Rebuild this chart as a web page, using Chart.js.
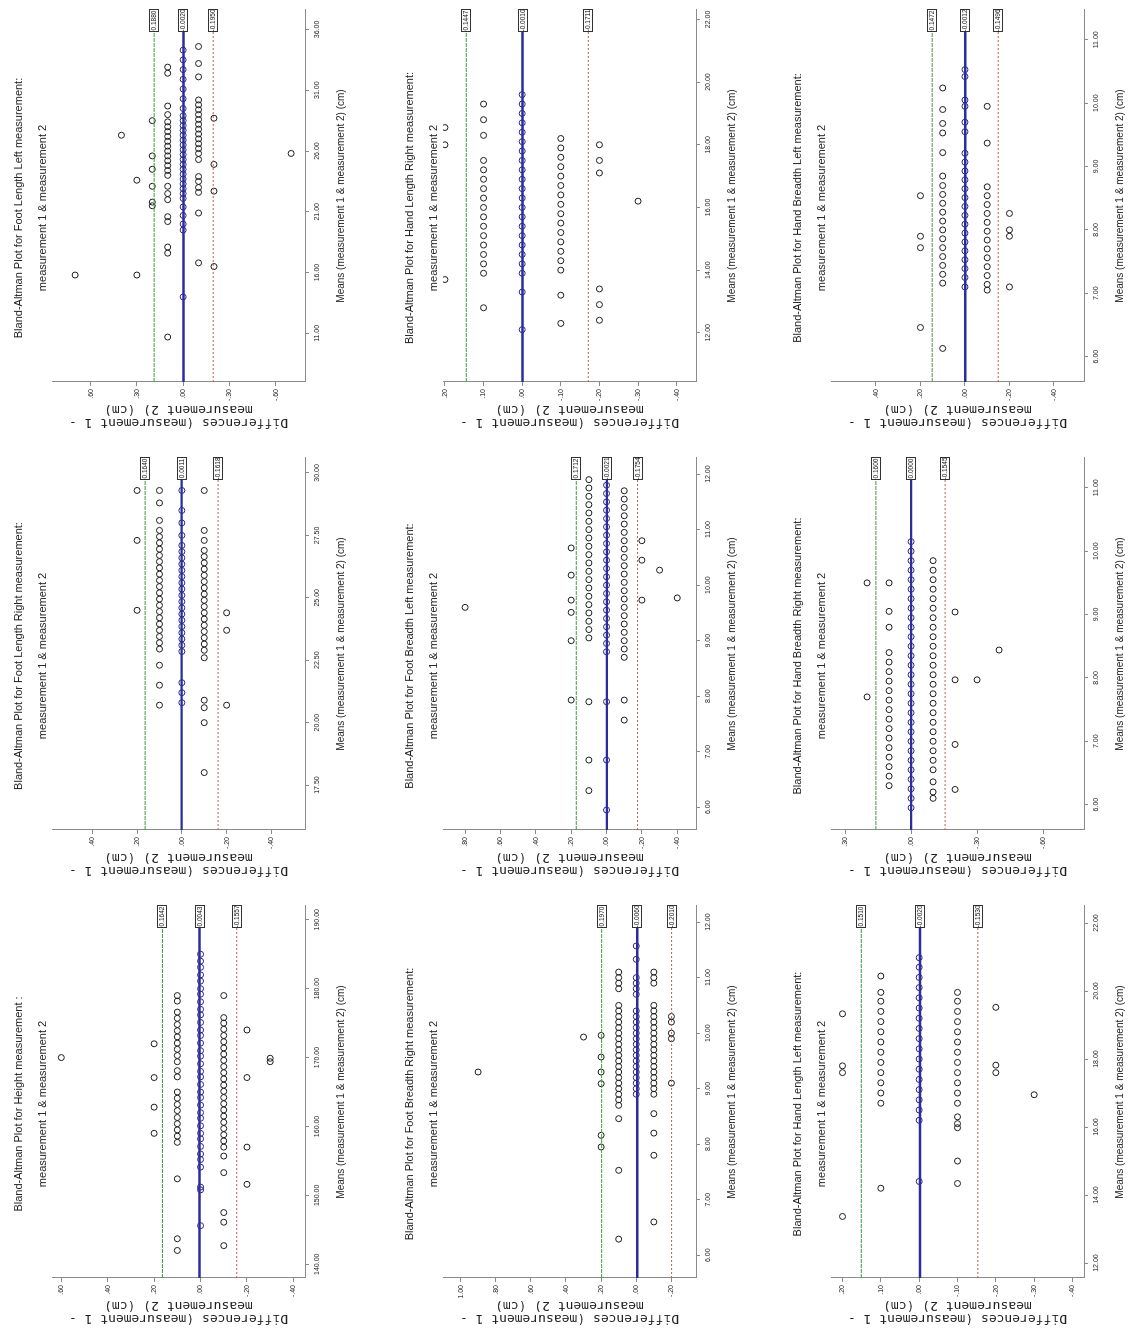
<!DOCTYPE html>
<html>
<head>
<meta charset="utf-8">
<script src="https://cdn.jsdelivr.net/npm/chart.js@4.4.1/dist/chart.umd.min.js"></script>
<style>
html, body { margin: 0; padding: 0; background: #fff; width: 1143px; height: 1332px; overflow: hidden; }
/* the sheet is laid out upright, then turned a quarter to the left like the scan */
#sheet { position: absolute; left: 0; top: 0; width: 1332px; height: 1143px; transform-origin: 0 0; transform: translateY(1332px) rotate(-90deg); background: #fff; }
#sheet canvas { position: absolute; }
</style>
</head>
<body>
<div id="sheet"></div>
<script>
//* Input data //*

var panelTitles = [
  'Bland-Altman Plot for Height measurement :',
  'Bland-Altman Plot for Foot Length Right measurement:',
  'Bland-Altman Plot for Foot Length Left measurement:',
  'Bland-Altman Plot for Foot Breadth Right measurement:',
  'Bland-Altman Plot for Foot Breadth Left measurement:',
  'Bland-Altman Plot for Hand Length Right measurement:',
  'Bland-Altman Plot for Hand Length Left measurement:',
  'Bland-Altman Plot for Hand Breadth Right measurement:',
  'Bland-Altman Plot for Hand Breadth Left measurement:'
];
var subTitle = 'measurement 1 & measurement 2';
var xAxisTitle = 'Means (measurement 1 & measurement 2) (cm)';
var yAxisTitle = ['Differences (measurement 1 -', 'measurement 2) (cm)'];

// Means axis: range and ticks for each panel.
var xRanges = [[138, 192], [15.7, 30.6], [7, 37.6], [5.59, 12.29], [5.59, 12.29], [10.43, 22.3], [11.56, 22.5], [5.6, 11.47], [5.6, 11.47]];
var xTickValues = [
  [140, 150, 160, 170, 180, 190],
  [17.5, 20, 22.5, 25, 27.5, 30],
  [11, 16, 21, 26, 31, 36],
  [6, 7, 8, 9, 10, 11, 12],
  [6, 7, 8, 9, 10, 11, 12],
  [12, 14, 16, 18, 20, 22],
  [12, 14, 16, 18, 20, 22],
  [6, 7, 8, 9, 10, 11],
  [6, 7, 8, 9, 10, 11]
];

// Differences axis: range and ticks for each panel.
var yRanges = [[-0.45, 0.64], [-0.55, 0.58], [-0.79, 0.85], [-0.34, 1.10], [-0.506, 0.925], [-0.45, 0.205], [-0.43, 0.23], [-0.786, 0.364], [-0.535, 0.602]];
var yTickValues = [
  [-0.4, -0.2, 0, 0.2, 0.4, 0.6],
  [-0.4, -0.2, 0, 0.2, 0.4],
  [-0.6, -0.3, 0, 0.3, 0.6],
  [-0.2, 0, 0.2, 0.4, 0.6, 0.8, 1.0],
  [-0.4, -0.2, 0, 0.2, 0.4, 0.6, 0.8],
  [-0.4, -0.3, -0.2, -0.1, 0, 0.1, 0.2],
  [-0.4, -0.3, -0.2, -0.1, 0, 0.1, 0.2],
  [-0.6, -0.3, 0, 0.3],
  [-0.4, -0.2, 0, 0.2, 0.4]
];

// Upper limit, mean difference, lower limit.
var limitLines = [
  [0.1642, 0.0043, -0.1557],
  [0.1640, 0.0011, -0.1618],
  [0.1880, -0.0020, -0.1950],
  [0.1970, -0.0060, -0.2010],
  [0.1712, -0.0021, -0.1754],
  [0.1447, -0.0010, -0.1711],
  [0.1510, -0.0020, -0.1530],
  [0.1600, 0.0000, -0.1545],
  [0.1472, -0.0012, -0.1496]
];

// Points: one list of means for every difference level.
var heightDiffs = [0.6, 0.2, 0.1, 0, -0.1, -0.2, -0.3];
var heightMeans = [
  [170.0],
  [172.0, 167.1, 162.8, 159.0],
  [179.0, 178.2, 176.6, 175.7, 174.8, 173.9, 173.0, 172.1, 171.2, 170.3, 169.4, 168.1, 167.2, 165.0, 164.1, 163.2, 162.3, 161.3, 160.4, 159.5, 158.6, 157.7, 152.4, 143.7, 142.0],
  [185.0, 184.0, 183.1, 182.0, 181.1, 180.0, 179.2, 178.1, 177.0, 176.2, 175.1, 174.0, 173.2, 172.1, 171.0, 170.2, 169.1, 168.0, 167.2, 166.1, 165.0, 164.2, 163.1, 162.0, 161.2, 160.1, 159.0, 158.2, 157.1, 156.0, 155.2, 154.1, 151.2, 150.8, 145.6],
  [179.0, 175.8, 175.0, 174.1, 173.2, 172.3, 171.4, 170.5, 169.6, 168.7, 167.8, 166.9, 166.0, 165.1, 164.2, 163.3, 162.4, 161.5, 160.6, 159.7, 158.8, 157.9, 157.0, 155.7, 153.3, 147.5, 146.1, 142.7],
  [174.0, 167.1, 157.0, 151.6],
  [169.4, 169.9]
];

var footLenRDiffs = [0.2, 0.1, 0, -0.1, -0.2];
var footLenRMeans = [
  [29.3, 27.3, 24.5],
  [29.3, 28.8, 28.1, 27.7, 27.45, 27.2, 26.95, 26.7, 26.45, 26.2, 25.95, 25.7, 25.45, 25.2, 24.95, 24.7, 24.45, 24.2, 23.95, 23.7, 23.45, 23.2, 22.95, 22.3, 21.5, 20.7],
  [29.3, 28.5, 28.0, 27.5, 27.1, 26.85, 26.6, 26.35, 26.1, 25.85, 25.6, 25.35, 25.1, 24.85, 24.6, 24.35, 24.1, 23.85, 23.6, 23.35, 23.1, 22.85, 21.6, 21.2, 20.8],
  [29.3, 27.7, 27.3, 26.9, 26.65, 26.4, 26.15, 25.9, 25.65, 25.4, 25.15, 24.9, 24.65, 24.4, 24.15, 23.9, 23.65, 23.4, 23.15, 22.9, 22.6, 20.9, 20.6, 20.0, 18.0],
  [24.4, 23.7, 20.7]
];

var footLenLDiffs = [0.7, 0.4, 0.3, 0.2, 0.1, 0, -0.1, -0.2, -0.7];
var footLenLMeans = [
  [15.8],
  [27.3],
  [23.6, 15.8],
  [28.5, 25.6, 24.5, 23.1, 21.8, 21.5],
  [32.9, 32.4, 29.7, 29.0, 28.4, 28.0, 27.6, 27.2, 26.8, 26.4, 26.0, 25.6, 25.2, 24.8, 24.4, 24.0, 23.1, 22.5, 22.0, 20.6, 20.2, 18.1, 17.6, 10.7],
  [34.3, 33.5, 32.7, 31.9, 31.1, 30.3, 29.5, 28.9, 28.5, 28.1, 27.7, 27.3, 26.9, 26.5, 26.1, 25.7, 25.3, 24.9, 24.5, 24.1, 23.7, 23.3, 22.9, 22.5, 22.1, 21.4, 20.7, 20.0, 19.5, 14.0],
  [34.6, 33.2, 32.1, 30.2, 29.8, 29.4, 29.0, 28.6, 28.2, 27.8, 27.4, 27.0, 26.6, 26.2, 25.8, 25.3, 23.9, 23.5, 23.0, 22.6, 20.9, 16.8],
  [28.7, 24.9, 22.7, 16.5],
  [25.8]
];

var footBrRDiffs = [0.9, 0.3, 0.2, 0.1, 0, -0.1, -0.2];
var footBrRMeans = [
  [9.30],
  [9.93],
  [9.96, 9.57, 9.30, 9.09, 8.16, 7.95],
  [11.1, 11.0, 10.9, 10.8, 10.5, 10.4, 10.3, 10.2, 10.1, 10.0, 9.9, 9.8, 9.7, 9.6, 9.5, 9.4, 9.3, 9.2, 9.1, 9.0, 8.9, 8.8, 8.7, 8.46, 7.53, 6.29],
  [11.57, 11.33, 11.0, 10.9, 10.8, 10.7, 10.4, 10.3, 10.2, 10.1, 10.0, 9.9, 9.8, 9.7, 9.6, 9.5, 9.4, 9.3, 9.2, 9.1, 9.0, 8.9],
  [11.1, 11.0, 10.9, 10.5, 10.4, 10.3, 10.2, 10.1, 10.0, 9.9, 9.8, 9.7, 9.6, 9.5, 9.4, 9.3, 9.2, 9.1, 9.0, 8.9, 8.55, 8.2, 7.8, 6.6],
  [10.3, 10.2, 10.0, 9.9, 9.1]
];

var footBrLDiffs = [0.8, 0.2, 0.1, 0, -0.1, -0.2, -0.3, -0.4];
var footBrLMeans = [
  [9.6],
  [10.67, 10.18, 9.73, 9.51, 9.0, 7.93],
  [11.9, 11.75, 11.6, 11.45, 11.3, 11.15, 11.0, 10.85, 10.7, 10.55, 10.4, 10.25, 10.1, 9.95, 9.8, 9.65, 9.5, 9.35, 9.2, 9.05, 7.9, 6.85, 6.3],
  [11.8, 11.65, 11.5, 11.35, 11.2, 11.05, 10.9, 10.75, 10.6, 10.45, 10.3, 10.15, 10.0, 9.85, 9.7, 9.55, 9.4, 9.25, 9.1, 8.95, 8.8, 7.9, 6.85, 5.95],
  [11.7, 11.55, 11.4, 11.25, 11.1, 10.95, 10.8, 10.65, 10.5, 10.35, 10.2, 10.05, 9.9, 9.75, 9.6, 9.45, 9.3, 9.15, 9.0, 8.85, 8.7, 7.93, 7.57],
  [10.8, 10.45, 9.73],
  [10.27],
  [9.77]
];

var handLenRDiffs = [0.2, 0.1, 0, -0.1, -0.2, -0.3];
var handLenRMeans = [
  [18.55, 18.0, 13.7],
  [19.3, 18.8, 18.3, 17.5, 17.2, 16.9, 16.6, 16.3, 16.0, 15.7, 15.4, 15.1, 14.8, 14.5, 14.2, 13.9, 12.8],
  [19.6, 19.3, 19.0, 18.7, 18.4, 18.1, 17.8, 17.5, 17.2, 16.9, 16.6, 16.3, 16.0, 15.7, 15.4, 15.1, 14.8, 14.5, 14.2, 13.9, 13.3, 12.1],
  [18.2, 17.9, 17.6, 17.3, 17.0, 16.7, 16.4, 16.1, 15.8, 15.5, 15.2, 14.9, 14.6, 14.3, 14.0, 13.2, 12.3],
  [18.0, 17.5, 17.1, 13.4, 12.9, 12.4],
  [16.2]
];

var handLenLDiffs = [0.2, 0.1, 0, -0.1, -0.2, -0.3];
var handLenLMeans = [
  [19.33, 17.8, 17.6, 13.37],
  [20.44, 19.96, 19.7, 19.4, 19.1, 18.8, 18.5, 18.2, 17.9, 17.6, 17.3, 17.0, 16.7, 14.2],
  [20.98, 20.7, 20.4, 20.1, 19.8, 19.5, 19.2, 18.9, 18.6, 18.3, 18.0, 17.7, 17.4, 17.1, 16.8, 16.5, 16.2, 14.4],
  [19.96, 19.7, 19.4, 19.1, 18.8, 18.5, 18.2, 17.9, 17.6, 17.3, 17.0, 16.7, 16.3, 16.1, 15.98, 15.0, 14.34],
  [19.52, 17.82, 17.6],
  [16.95]
];

var handBrRDiffs = [0.2, 0.1, 0, -0.1, -0.2, -0.3, -0.4];
var handBrRMeans = [
  [9.5, 7.7],
  [9.5, 9.05, 8.8, 8.4, 8.25, 8.1, 7.95, 7.8, 7.65, 7.5, 7.35, 7.2, 7.05, 6.9, 6.75, 6.6, 6.45, 6.3],
  [10.15, 10.0, 9.85, 9.7, 9.55, 9.4, 9.25, 9.1, 8.95, 8.8, 8.65, 8.5, 8.35, 8.2, 8.05, 7.9, 7.75, 7.6, 7.45, 7.3, 7.15, 7.0, 6.85, 6.7, 6.55, 6.4, 6.25, 6.1, 5.95],
  [9.85, 9.7, 9.55, 9.4, 9.25, 9.1, 8.95, 8.8, 8.65, 8.5, 8.35, 8.2, 8.05, 7.9, 7.75, 7.6, 7.45, 7.3, 7.15, 7.0, 6.85, 6.7, 6.55, 6.36, 6.2, 6.1],
  [9.04, 7.97, 6.95, 6.24],
  [7.97],
  [8.44]
];

var handBrLDiffs = [0.2, 0.1, 0, -0.1, -0.2];
var handBrLMeans = [
  [8.54, 7.9, 7.72, 6.46],
  [10.24, 9.9, 9.68, 9.53, 9.22, 8.85, 8.7, 8.56, 8.42, 8.28, 8.14, 8.0, 7.86, 7.72, 7.58, 7.44, 7.3, 7.16, 6.13],
  [10.53, 10.42, 10.05, 9.95, 9.7, 9.55, 9.21, 9.07, 8.93, 8.79, 8.65, 8.51, 8.37, 8.23, 8.09, 7.95, 7.81, 7.67, 7.53, 7.39, 7.25, 7.1],
  [9.95, 9.37, 8.68, 8.54, 8.4, 8.26, 8.12, 7.98, 7.84, 7.7, 7.56, 7.42, 7.28, 7.14, 7.05],
  [8.26, 8.0, 7.9, 7.1]
];

var panelDiffs = [heightDiffs, footLenRDiffs, footLenLDiffs, footBrRDiffs, footBrLDiffs, handLenRDiffs, handLenLDiffs, handBrRDiffs, handBrLDiffs];
var panelMeans = [heightMeans, footLenRMeans, footLenLMeans, footBrRMeans, footBrLMeans, handLenRMeans, handLenLMeans, handBrRMeans, handBrLMeans];

//* Layout and style //*

var colLeft = [0, 448, 896];
var rowTop = [0, 391, 779];
var panelW = 436, panelH = 362;

var sansFamily = "'Liberation Sans', Arial, sans-serif";
var lineColours = ['#3f9a45', '#2c2c9c', '#d2555a'];
var lineWidths = [1, 2.4, 1];
var lineDashes = [[4, 1], [], [2, 2]];

function fmtDiff(v) {
  // SPSS style: .20, -.40, 1.00
  var s = Math.abs(v).toFixed(2).replace(/^0/, '');
  return (v < -1e-9 ? '-' : '') + s;
}

// Title lines and the boxed values at the end of the reference lines.
var panelDecor = {
  id: 'panelDecor',
  afterDatasetsDraw: function(chart, args, opts) {
    var ctx = chart.ctx;
    var xs = chart.scales.x, ys = chart.scales.y;
    ctx.save();
    ctx.font = '6.5px ' + sansFamily;
    ctx.textAlign = 'center';
    ctx.textBaseline = 'middle';
    opts.limits.forEach(function(v) {
      var py = Math.round(ys.getPixelForValue(v));
      var bx = xs.right - 22;
      ctx.fillStyle = '#fff';
      ctx.fillRect(bx, py - 5, 23, 10);
      ctx.strokeStyle = '#333';
      ctx.lineWidth = 1;
      ctx.strokeRect(bx + 0.5, py - 4.5, 22, 9);
      ctx.fillStyle = '#111';
      ctx.fillText(v.toFixed(4), bx + 11.5, py + 0.5);
    });
    ctx.restore();
  },
  afterDraw: function(chart, args, opts) {
    var ctx = chart.ctx;
    ctx.save();
    ctx.font = '11px ' + sansFamily;
    ctx.fillStyle = '#222';
    ctx.textAlign = 'center';
    ctx.textBaseline = 'middle';
    ctx.fillText(opts.title, 228, 19);
    ctx.fillText(subTitle, 228, 43);
    ctx.restore();
  }
};

function makePanel(i) {
  var canvas = document.createElement('canvas');
  canvas.width = panelW;
  canvas.height = panelH;
  canvas.style.left = colLeft[i % 3] + 'px';
  canvas.style.top = rowTop[Math.floor(i / 3)] + 'px';
  document.getElementById('sheet').appendChild(canvas);

  var xr = xRanges[i], yr = yRanges[i];
  var points = [];
  panelDiffs[i].forEach(function(d, k) {
    panelMeans[i][k].forEach(function(m) { points.push({x: m, y: d}); });
  });

  var datasets = [];
  limitLines[i].forEach(function(v, k) {
    datasets.push({
      data: [{x: xr[0], y: v}, {x: xr[1], y: v}],
      showLine: true,
      borderColor: lineColours[k],
      borderWidth: lineWidths[k],
      borderDash: lineDashes[k],
      pointRadius: 0,
      order: 0
    });
  });
  datasets.push({
    data: points,
    pointRadius: 3,
    pointBorderWidth: 1,
    pointBackgroundColor: 'rgba(0,0,0,0)',
    pointBorderColor: function(c) { return (c.raw && c.raw.y === 0) ? '#26268a' : '#1c1c1c'; },
    order: 1
  });

  return new Chart(canvas, {
    type: 'scatter',
    data: { datasets: datasets },
    options: {
      responsive: false,
      animation: false,
      devicePixelRatio: 1,
      layout: { padding: { top: 52, right: 10, left: 0, bottom: 0 } },
      plugins: {
        legend: { display: false },
        tooltip: { enabled: false },
        panelDecor: { title: panelTitles[i], limits: limitLines[i] }
      },
      scales: {
        x: {
          type: 'linear', min: xr[0], max: xr[1],
          afterBuildTicks: function(s) { s.ticks = xTickValues[i].map(function(v) { return {value: v}; }); },
          afterFit: function(s) { s.height = 57; },
          ticks: { callback: function(v) { return Number(v).toFixed(2); }, font: { family: sansFamily, size: 7 }, color: '#222', padding: 4, maxRotation: 0, autoSkip: false },
          grid: { drawOnChartArea: false, drawTicks: true, tickLength: 4, color: '#8a8a8a' },
          border: { color: '#8a8a8a' },
          title: { display: true, text: xAxisTitle, color: '#222', font: { family: sansFamily, size: 10 }, padding: { top: 0, bottom: 15 } }
        },
        y: {
          type: 'linear', min: yr[0], max: yr[1],
          afterBuildTicks: function(s) { s.ticks = yTickValues[i].map(function(v) { return {value: v}; }); },
          afterFit: function(s) { s.width = 54; },
          ticks: { callback: function(v) { return fmtDiff(v); }, font: { family: sansFamily, size: 7 }, color: '#222', padding: 3, autoSkip: false },
          grid: { drawOnChartArea: false, drawTicks: true, tickLength: 4, color: '#8a8a8a' },
          border: { color: '#8a8a8a' },
          title: { display: true, text: yAxisTitle, color: '#222', font: { family: "'DejaVu Sans Mono', monospace", size: 13, lineHeight: 1.0 }, padding: { top: 7, bottom: 0 } }
        }
      }
    },
    plugins: [panelDecor]
  });
}

var i;
for (i = 0; i < panelTitles.length; i++) {
  makePanel(i);
}
</script>
</body>
</html>
